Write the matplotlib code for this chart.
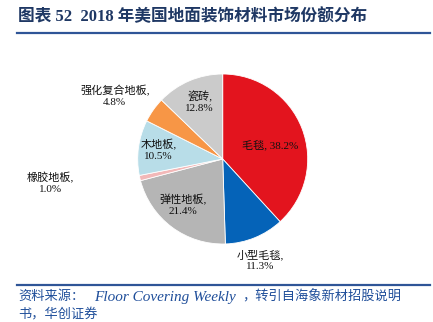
import numpy as np
import matplotlib
matplotlib.use("Agg")
import matplotlib.pyplot as plt

# market share by flooring material, 2018 (US)
labels = ["毛毯", "小型毛毯", "弹性地板", "橡胶地板", "木地板", "强化复合地板", "瓷砖"]
shares = [38.2, 11.3, 21.4, 1.0, 10.5, 4.8, 12.8]
colors = ["#E3141E", "#0563B8", "#B5B5B5", "#F2B8B8", "#B8DDE8", "#F79646", "#CBCBCB"]

# label placement: radial distance, angle tweak (deg), one or two lines
label_r = [0.58, 1.27, 0.72, 2.05, 0.76, 1.47, 0.72]
label_dang = [-5, -2, -4, -5, 0, 5, -1]
one_line = [True, False, False, False, False, False, False]

plt.rcParams["font.family"] = ["Liberation Serif", "Noto Sans CJK SC"]

W, H = 433, 322
fig = plt.figure(figsize=(W / 100, H / 100), dpi=100)

cx, cy, rad = 222.7, 159, 85
ax = fig.add_axes([(cx - rad) / W, (H - cy - rad) / H, 2 * rad / W, 2 * rad / H])
wedges, _ = ax.pie(shares, colors=colors, startangle=90, counterclock=False,
                   wedgeprops=dict(edgecolor="white", linewidth=0.6))
ax.set_xlim(-1, 1)
ax.set_ylim(-1, 1)
ax.set_aspect("equal")
ax.set_axis_off()

for w, lab, val, r, da, single in zip(wedges, labels, shares, label_r, label_dang, one_line):
    ang = np.deg2rad((w.theta1 + w.theta2) / 2 + da)
    x, y = r * np.cos(ang), r * np.sin(ang)
    txt = f"{lab}, {val:.1f}%" if single else f"{lab},\n{val:.1f}%"
    ax.text(x, y, txt, ha="center", va="center", fontsize=8, color="#111111",
            linespacing=1.25, clip_on=False)

# header
navy = "#1F3864"
fig.text(18 / W, 1 - 17 / H, "图表 52  2018 年美国地面装饰材料市场份额分布",
         fontsize=12, fontweight="bold", color=navy, va="center", ha="left")
fig.add_artist(plt.Line2D([17 / W, 430 / W], [1 - 32.5 / H, 1 - 32.5 / H],
                          color="#2F5597", linewidth=1.6))

# footer
fig.add_artist(plt.Line2D([17 / W, 430 / W], [1 - 285 / H, 1 - 285 / H],
                          color="#2F5597", linewidth=1.6))
src = dict(style="italic", color="#1F4E9A", va="center", ha="left")
fig.text(18 / W, 1 - 297 / H, "资料来源：", fontsize=9.5, **src)
fig.text(94 / W, 1 - 297 / H, "Floor Covering Weekly", fontsize=11, **src)
fig.text(242 / W, 1 - 297 / H, "，转引自海象新材招股说明", fontsize=9.5, **src)
fig.text(18 / W, 1 - 314 / H, "书，华创证券", fontsize=9.5, **src)

fig.savefig("out.png", dpi=100)
